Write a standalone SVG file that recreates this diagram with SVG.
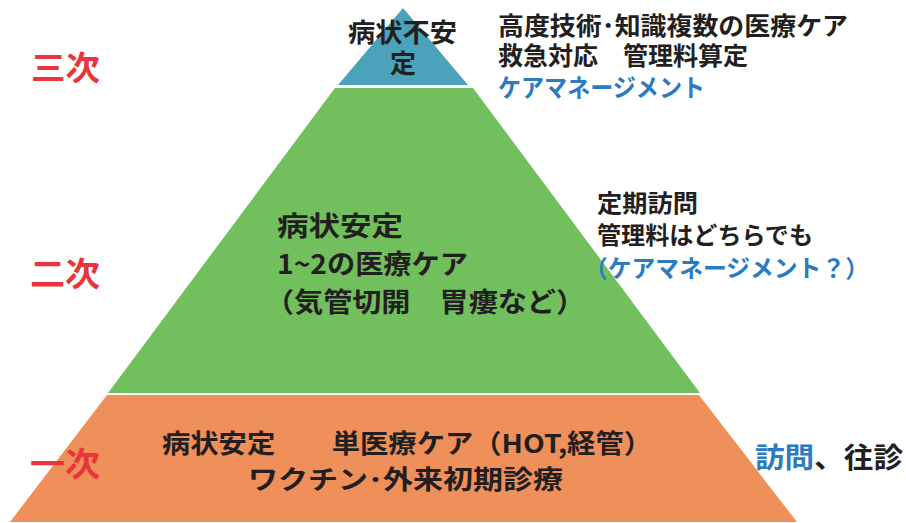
<svg xmlns="http://www.w3.org/2000/svg" width="906" height="523" viewBox="0 0 906 523">
<style>
text{font-family:"Noto Sans CJK JP","Noto Sans",sans-serif;font-weight:700;dominant-baseline:central;fill:#231F20}
.red{fill:#E8343A;font-size:33px;font-weight:700}
.blue{fill:#2A7BC0}
.t25{font-size:25px}
.t24{font-size:24px}
.t27{font-size:27px}
.t26{font-size:26px}
.t28{font-size:28px}
</style>
<rect width="906" height="523" fill="#FFFFFF"/>
<g id="tier3">
<polygon points="403,8 468,85 338,85" fill="#4AA3BB"/>
<text class="t26" x="402.5" y="30" text-anchor="middle" textLength="109" lengthAdjust="spacingAndGlyphs">病状不安</text>
<text class="t26" x="403" y="61" text-anchor="middle">定</text>
</g>
<g id="tier2">
<polygon points="335,88 473,88 700,393 108,393" fill="#72BF5E"/>
<text class="t27" x="277" y="224.5" textLength="126" lengthAdjust="spacingAndGlyphs">病状安定</text>
<text class="t27" x="277" y="262" textLength="191" lengthAdjust="spacingAndGlyphs">1~2の医療ケア</text>
<text class="t27" x="265" y="300" textLength="320" lengthAdjust="spacingAndGlyphs">（気管切開　胃瘻など）</text>
</g>
<g id="tier1">
<polygon points="107,395 699,395 797,522 10,522" fill="#EF8F59"/>
<text class="t26" x="162" y="441" textLength="490" lengthAdjust="spacingAndGlyphs">病状安定　　単医療ケア（HOT,経管）</text>
<text class="t26" x="248" y="477" textLength="315" lengthAdjust="spacingAndGlyphs">ワクチン･外来初期診療</text>
</g>
<g id="labels">
<text class="red" x="31" y="66" textLength="69" lengthAdjust="spacingAndGlyphs">三次</text>
<text class="red" x="30" y="272" textLength="70" lengthAdjust="spacingAndGlyphs">二次</text>
<text class="red" x="30" y="462" textLength="70" lengthAdjust="spacingAndGlyphs">一次</text>
</g>
<g id="note3">
<text class="t25" x="498" y="23.5" textLength="350" lengthAdjust="spacingAndGlyphs">高度技術･知識複数の医療ケア</text>
<text class="t25" x="498" y="54" textLength="250" lengthAdjust="spacingAndGlyphs">救急対応　管理料算定</text>
<text class="t25 blue" x="498" y="86" textLength="207" lengthAdjust="spacingAndGlyphs">ケアマネージメント</text>
</g>
<g id="note2">
<text class="t24" x="597" y="201" textLength="101" lengthAdjust="spacingAndGlyphs">定期訪問</text>
<text class="t24" x="597" y="233" textLength="216" lengthAdjust="spacingAndGlyphs">管理料はどちらでも</text>
<text class="t24 blue" x="584" y="266" textLength="285" lengthAdjust="spacingAndGlyphs">（ケアマネージメント？）</text>
</g>
<g id="note1">
<text class="t28" x="755" y="456" textLength="148" lengthAdjust="spacingAndGlyphs"><tspan class="blue">訪問</tspan>、往診</text>
</g>
<g id="connectors"></g>
</svg>
